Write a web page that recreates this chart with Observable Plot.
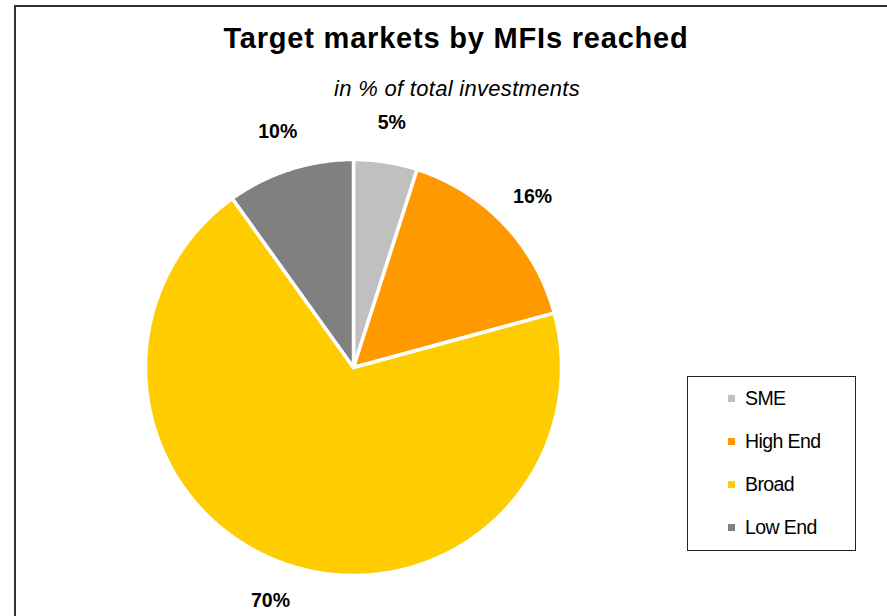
<!DOCTYPE html>
<html><head><meta charset="utf-8">
<script src="https://cdn.jsdelivr.net/npm/d3@7"></script>
<script src="https://cdn.jsdelivr.net/npm/@observablehq/plot@0.6"></script>
<style>
body{margin:0;background:#fff;font-family:"Liberation Sans",Arial,sans-serif;}
#wrap{position:relative;width:887px;height:616px;overflow:hidden;background:#fff;}
#frame{position:absolute;left:14px;top:5px;width:1000px;height:1000px;border:2px solid #333;box-sizing:border-box;}
#title{position:absolute;left:0;width:912px;top:24px;text-align:center;font-weight:bold;font-size:29px;line-height:1;letter-spacing:0.8px;color:#000;}
#subtitle{position:absolute;left:0;width:914px;top:78px;text-align:center;font-style:italic;font-size:22px;line-height:1;color:#000;letter-spacing:0.3px;}
#chart{position:absolute;left:0;top:110px;}
#legend{position:absolute;left:687px;top:376px;width:169px;height:175px;border:1.5px solid #222;box-sizing:border-box;background:#fff;}
.item{position:absolute;left:40px;height:24px;display:flex;align-items:center;font-size:19.5px;color:#000;letter-spacing:-0.6px;}
.sw{width:7px;height:7px;margin-right:10px;}
</style>
</head><body>
<div id="wrap">
  <div id="frame"></div>
  <div id="title">Target markets by MFIs reached</div>
  <div id="subtitle">in % of total investments</div>
  <div id="chart"></div>
  <div id="legend"></div>
</div>
<script>
const categories = ["SME", "High End", "Broad", "Low End"];
const values = [5, 16, 70, 10];
const labels = ["5%", "16%", "70%", "10%"];
const colors = ["#c0c0c0", "#ff9900", "#ffcc00", "#808080"];

const total = d3.sum(values);
const slices = [];
const labelData = [];
let acc = 0;
categories.forEach((c, i) => {
  const a0 = acc / total * 2 * Math.PI;
  acc += values[i];
  const a1 = acc / total * 2 * Math.PI;
  const n = Math.max(2, Math.ceil((a1 - a0) / (Math.PI / 360)));
  slices.push({cat: c, x: 0, y: 0});
  for (let k = 0; k <= n; k++) {
    const a = a0 + (a1 - a0) * k / n;
    slices.push({cat: c, x: Math.sin(a), y: Math.cos(a)});
  }
  slices.push({cat: c, x: 0, y: 0});
  const am = (a0 + a1) / 2;
  labelData.push({cat: c, label: labels[i], x: 1.19 * Math.sin(am), y: 1.19 * Math.cos(am)});
});

const W = 887, H = 506, R = 208, CX = 353, CY = 257;
const chart = Plot.plot({
  width: W, height: H,
  marginTop: 0, marginBottom: 0, marginLeft: 0, marginRight: 0,
  x: {domain: [-CX / R, (W - CX) / R], axis: null},
  y: {domain: [-(H - CY) / R, CY / R], axis: null},
  color: {domain: categories, range: colors},
  style: {background: "transparent", fontFamily: "Liberation Sans, Arial, sans-serif"},
  marks: [
    Plot.line(slices, {x: "x", y: "y", z: "cat", fill: "cat", stroke: "white", strokeWidth: 3.5, strokeLinejoin: "round", curve: "linear"}),
    Plot.text(labelData, {x: "x", y: "y", text: "label", fontWeight: "bold", fontSize: 19.5, fill: "black", textAnchor: "middle", lineAnchor: "middle"})
  ]
});
document.getElementById("chart").appendChild(chart);

const legend = document.getElementById("legend");
categories.forEach((c, i) => {
  const it = document.createElement("div");
  it.className = "item";
  it.style.top = (9 + 43 * i) + "px";
  const sw = document.createElement("span");
  sw.className = "sw";
  sw.style.background = colors[i];
  const tx = document.createElement("span");
  tx.textContent = c;
  it.appendChild(sw); it.appendChild(tx);
  legend.appendChild(it);
});
</script>
</body></html>
